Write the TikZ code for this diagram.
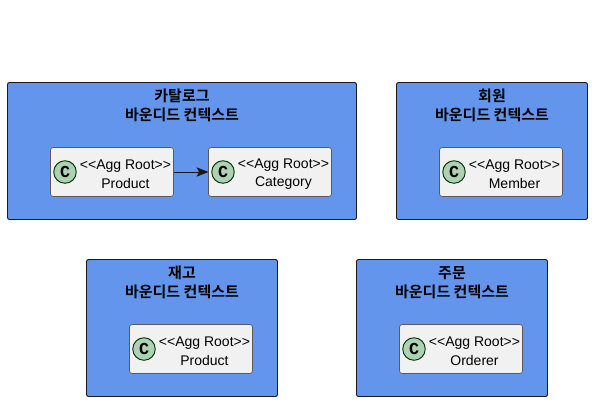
\documentclass[tikz,border=0pt]{standalone}
\usepackage{fontspec}
\setmainfont{Liberation Sans}
\newfontfamily\krfont{Noto Sans CJK KR}[BoldFont={Noto Sans CJK KR Bold}]
\newfontfamily\spotfont{Liberation Mono}
\usetikzlibrary{arrows.meta}
\definecolor{ctxblue}{HTML}{6495ED}
\definecolor{classfill}{HTML}{F1F1F1}
\definecolor{spotfill}{HTML}{ADD1B2}
\newcommand{\aggroot}{{<}{<}Agg Root{>}{>}}
\tikzset{
	context/.style={draw=black!90, fill=ctxblue, line width=0.7pt, rounded corners=1.5pt, minimum height=102.75pt, inner sep=0pt, outer sep=0pt},
	ctxtitle/.style={font=\krfont\bfseries\fontsize{11.25}{14.25}\selectfont, align=center, inner sep=0pt},
	aggclass/.style={draw=black!65, fill=classfill, line width=0.5pt, rounded corners=2pt, minimum width=92.25pt, minimum height=36.75pt, inner sep=0pt, outer sep=0pt},
	aggtext/.style={font=\fontsize{10.5}{13.9}\selectfont, align=center, inner sep=0pt},
	spot/.style={circle, draw=black!80!green, fill=spotfill, line width=0.7pt, minimum size=16.9pt, inner sep=0pt, font=\spotfont\bfseries\fontsize{12.5}{14}\selectfont},
}
\begin{document}
\begin{tikzpicture}[x=0.75pt, y=-0.75pt]
	\useasboundingbox (0,0) rectangle (592,401);
	% contexts
	\node[context, minimum width=261.75pt] (catalog) at (182,151) {};
	\node[context, minimum width=143.25pt] (member) at (492,151) {};
	\node[context, minimum width=143.25pt] (stock) at (182,328) {};
	\node[context, minimum width=143.25pt] (order) at (452,328) {};
	\node[ctxtitle] (catalogtitle) at (182,105.5) {카탈로그\\바운디드 컨텍스트};
	\node[ctxtitle] (membertitle) at (492,105.5) {회원\\바운디드 컨텍스트};
	\node[ctxtitle] (stocktitle) at (182,282.5) {재고\\바운디드 컨텍스트};
	\node[ctxtitle] (ordertitle) at (452,282.5) {주문\\바운디드 컨텍스트};
	% classes
	\node[aggclass] (product) at (112,172) {};
	\node[aggclass] (category) at (270,172) {};
	\node[aggclass] (membercls) at (501,172) {};
	\node[aggclass] (stockprod) at (191,349) {};
	\node[aggclass] (orderer) at (461,349) {};
	\node[spot] (productspot) at (65,172) {C};
	\node[spot] (categoryspot) at (223,172) {C};
	\node[spot] (memberspot) at (454,172) {C};
	\node[spot] (stockspot) at (144,349) {C};
	\node[spot] (orderspot) at (414,349) {C};
	\node[aggtext] (producttext) at (125.5,174) {\aggroot\\Product};
	\node[aggtext] (categorytext) at (283.5,174) {\aggroot\\Category};
	\node[aggtext] (membertext) at (514.5,174) {\aggroot\\Member};
	\node[aggtext] (stocktext) at (204.5,351) {\aggroot\\Product};
	\node[aggtext] (ordertext) at (474.5,351) {\aggroot\\Orderer};
	% relation
	\draw[-{Stealth[length=9pt, width=7pt, inset=2pt]}, black!90, line width=0.6pt] (product.east) -- (category.west);
\end{tikzpicture}
\end{document}
